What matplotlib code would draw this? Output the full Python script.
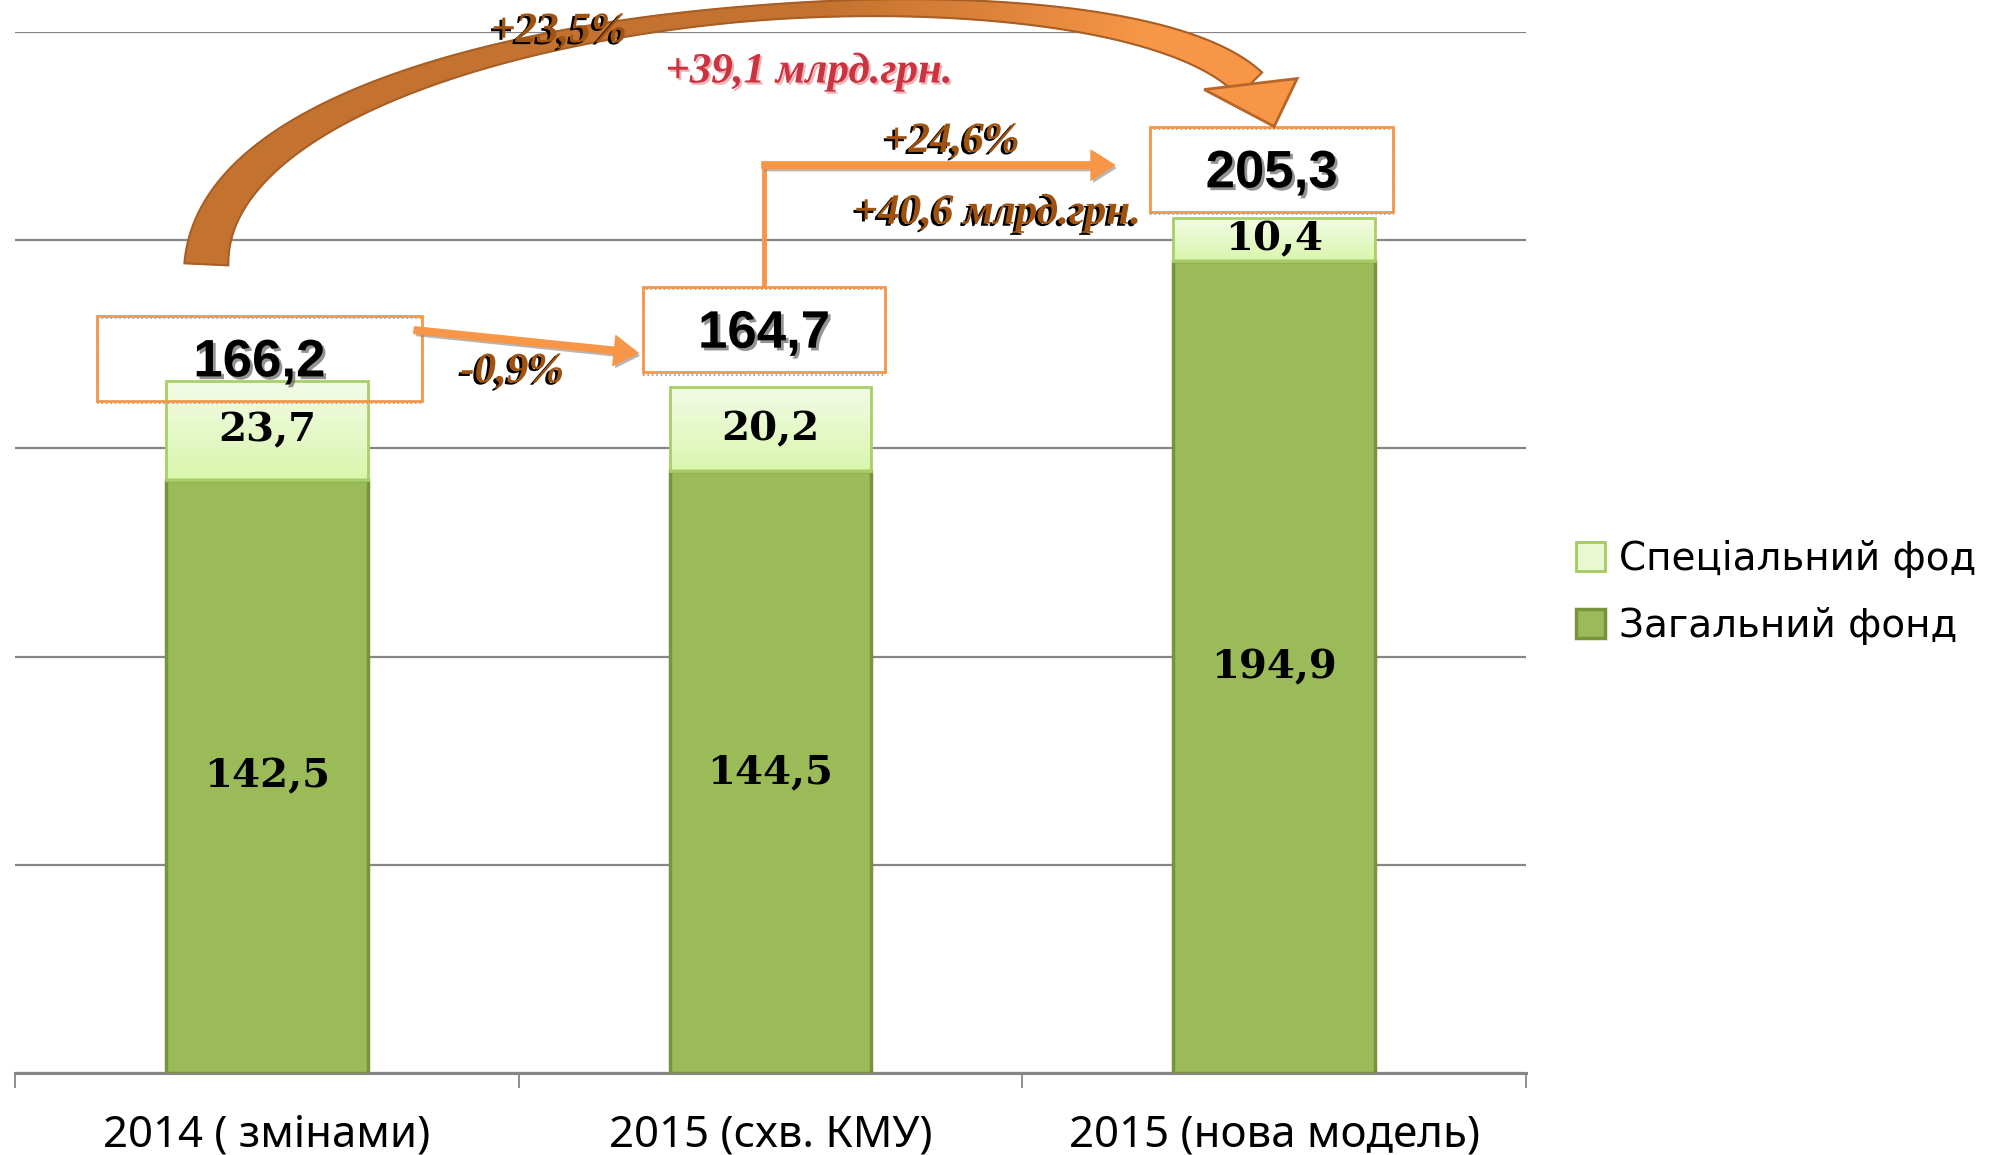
import numpy as np
import matplotlib
matplotlib.use('Agg')
import matplotlib.pyplot as plt
import matplotlib.patheffects as pe
from matplotlib.patches import Rectangle, Polygon, FancyArrowPatch, Patch
from matplotlib.collections import PolyCollection
from matplotlib.colors import LinearSegmentedColormap, to_rgb

# data
categories = ['2014 ( змінами)', '2015 (схв. КМУ)', '2015 (нова модель)']
general_fund = [142.5, 144.5, 194.9]
special_fund = [23.7, 20.2, 10.4]
series_names = ['Спеціальний фод', 'Загальний фонд']
step_pct = ['-0,9%', '+24,6%']
step_amount = '+40,6 млрд.грн.'
total_pct = '+23,5%'
total_amount = '+39,1 млрд.грн.'


def fmt(v):
    return f'{v:.1f}'.replace('.', ',')


x = np.arange(len(categories))
totals = np.array(general_fund) + np.array(special_fund)

fig = plt.figure(figsize=(19.91, 11.55), dpi=100)
ax = fig.add_axes([15 / 1991, 82 / 1155, 1511 / 1991, 1041 / 1155])

bw = 0.4
grid_col = '#868686'
orange = '#F79646'
brown = '#A0520F'

ax.bar(x, general_fund, bw, color='#9BBB59', edgecolor='#77933C', lw=2.5, zorder=3)

# special fund with light vertical gradient
sp_cmap = LinearSegmentedColormap.from_list('sp', ['#D9F6AC', '#F3FBE7'])
grad = np.linspace(0, 1, 100).reshape(-1, 1)
for xi, g, s in zip(x, general_fund, special_fund):
    ax.imshow(grad, extent=(xi - bw / 2, xi + bw / 2, g, g + s), origin='lower',
              cmap=sp_cmap, aspect='auto', zorder=2.8)
ax.bar(x, special_fund, bw, bottom=general_fund, facecolor='none',
       edgecolor='#A8CF66', lw=2, zorder=3)

ax.set_xlim(-0.5, 2.5)
ax.set_ylim(0, 250)
ax.set_aspect('auto')

# segment labels
for xi, g, s in zip(x, general_fund, special_fund):
    ax.text(xi, g / 2, fmt(g), ha='center', va='center', fontsize=29,
            family='DejaVu Serif', weight='bold', zorder=4)
    ax.text(xi, g + s / 2, fmt(s), ha='center', va='center', fontsize=29,
            family='DejaVu Serif', weight='bold', zorder=4)

# axes styling
ax.set_yticks(range(0, 251, 50))
ax.tick_params(axis='y', length=0, labelleft=False)
ax.yaxis.grid(True, color=grid_col, lw=1.6)
ax.set_axisbelow(True)
for side in ['left', 'right', 'top']:
    ax.spines[side].set_visible(False)
ax.spines['bottom'].set_color(grid_col)
ax.spines['bottom'].set_linewidth(2.2)
ax.set_xticks([-0.5, 0.5, 1.5, 2.5])
ax.set_xticklabels([])
ax.tick_params(axis='x', which='major', length=11, width=1.3, color=grid_col)
ax.set_xticks(x, minor=True)
ax.set_xticklabels(categories, minor=True, fontsize=31.5, family='Noto Sans')
ax.tick_params(axis='x', which='minor', length=0, pad=29)

# total boxes
box_dx = [-0.015, -0.013, -0.005]
box_w = [0.645, 0.48, 0.483]
box_off = [-4.8, 3.6, 1.5]
box_h = 20.5
box_top = []
for i, t in enumerate(totals):
    cx = x[i] + box_dx[i]
    y0 = t + box_off[i]
    ax.add_patch(Rectangle((cx - box_w[i] / 2, y0 - 0.6), box_w[i], box_h, facecolor='none',
                           edgecolor='#9A9A9A', lw=1.2, ls=':', zorder=4.4, clip_on=False))
    ax.add_patch(Rectangle((cx - box_w[i] / 2, y0), box_w[i], box_h, facecolor='none',
                           edgecolor=orange, lw=2, zorder=4.5, clip_on=False))
    ax.text(cx, y0 + box_h / 2 - 1, fmt(t), ha='center', va='center', fontsize=38,
            family='Liberation Sans', weight='bold', zorder=5, clip_on=False,
            path_effects=[pe.withSimplePatchShadow(offset=(2, -2), shadow_rgbFace='#666666', alpha=0.7)])
    box_top.append(y0 + box_h)

arrow_shadow = [pe.withSimplePatchShadow(offset=(1.5, -2), shadow_rgbFace='#888888', alpha=0.6)]
brown_fx = [pe.withSimplePatchShadow(offset=(-2, -1.5), shadow_rgbFace='black', alpha=1.0)]
arrow_style = 'simple,head_width=1.2,head_length=0.95,tail_width=0.27'

# arrow 2014 -> 2015 (КМУ)
b0_right = x[0] + box_dx[0] + box_w[0] / 2
b1_left = x[1] + box_dx[1] - box_w[1] / 2
ax.add_patch(FancyArrowPatch((b0_right - 0.015, totals[0] + 12.2), (b1_left - 0.01, totals[1] + 8.2),
                             arrowstyle=arrow_style, mutation_scale=18, color=orange,
                             shrinkA=0, shrinkB=0, zorder=5, clip_on=False,
                             path_effects=arrow_shadow))
ax.text((b0_right + b1_left) / 2 - 0.04, totals[1] + 3.6, step_pct[0], ha='center', va='center',
        fontsize=31, family='Liberation Serif', weight='bold', style='italic', color=brown,
        path_effects=brown_fx, zorder=5)

# elbow arrow 2015 (КМУ) -> 2015 (нова модель)
elbow_x = x[1] + box_dx[1]
elbow_y = 218
b2_left = x[2] + box_dx[2] - box_w[2] / 2
ax.plot([elbow_x, elbow_x], [box_top[1], elbow_y + 0.6], color=orange, lw=3.5,
        solid_capstyle='butt', zorder=5, clip_on=False, path_effects=arrow_shadow)
ax.add_patch(FancyArrowPatch((elbow_x - 0.004, elbow_y), (b2_left - 0.07, elbow_y),
                             arrowstyle=arrow_style, mutation_scale=18, color=orange,
                             shrinkA=0, shrinkB=0, zorder=5, clip_on=False,
                             path_effects=arrow_shadow))
ax.text(1.36, elbow_y + 5.6, step_pct[1], ha='center', va='center', fontsize=31,
        family='Liberation Serif', weight='bold', style='italic', color=brown,
        path_effects=brown_fx, zorder=5)
ax.text(1.45, elbow_y - 11.5, step_amount, ha='center', va='center', fontsize=31,
        family='Liberation Serif', weight='bold', style='italic', color=brown,
        path_effects=brown_fx, zorder=5)

# big curved arrow 2014 -> 2015 (нова модель), built in pixel space
tip = np.array([x[2], box_top[2]])
p0 = np.array([x[0] - 0.12, totals[0] + 28])
p1 = np.array([x[0] - 0.10, 258])
p2 = np.array([1.674, 272])
p3 = tip + np.array([-0.048, 10.1])
P = ax.transData.transform(np.array([p0, p1, p2, p3]))
tip_px = ax.transData.transform(tip)
t = np.linspace(0, 1, 400)[:, None]
shaft = ((1 - t) ** 3 * P[0] + 3 * (1 - t) ** 2 * t * P[1]
         + 3 * (1 - t) * t ** 2 * P[2] + t ** 3 * P[3])
s = t[:, 0]
w = (15 + 29 * np.clip((0.55 - s) / 0.55, 0, 1) ** 1.5
     + 19 * np.clip((s - 0.55) / 0.45, 0, 1) ** 1.5)
d = np.gradient(shaft, axis=0)
d /= np.hypot(d[:, 0], d[:, 1])[:, None]
nrm = np.column_stack([-d[:, 1], d[:, 0]])
left = shaft + nrm * w[:, None] / 2
right = shaft - nrm * w[:, None] / 2
inv = ax.transData.inverted()
c_a, c_b = np.array(to_rgb('#C4722F')), np.array(to_rgb(orange))
f = np.clip((s - 0.6) / 0.25, 0, 1)[:, None]
cols = c_a * (1 - f) + c_b * f
quads = [inv.transform(np.array([left[i], left[i + 1], right[i + 1], right[i]]))
         for i in range(len(shaft) - 1)]
pc = PolyCollection(quads, facecolors=cols[:-1], edgecolors=cols[:-1], linewidths=0.8, zorder=5)
pc.set_clip_on(False)
ax.add_collection(pc)
ax.add_patch(Polygon(inv.transform(np.vstack([left, right[::-1]])), closed=True, fill=False,
                     edgecolor='#A85F25', lw=1.5, zorder=5.1, clip_on=False))
# arrow head, pixel offsets from the tip (y up)
head = tip_px + np.array([[-70, 37], [0, 0], [23, 48]])
ax.add_patch(Polygon(inv.transform(head), closed=True, facecolor=orange, edgecolor='#B8652A',
                     lw=2, zorder=5.2, clip_on=False))
ax.text(0.58, 250, total_pct, ha='center', va='center', fontsize=31, family='Liberation Serif',
        weight='bold', style='italic', color=brown, path_effects=brown_fx, zorder=6, clip_on=False)
ax.text(1.076, 240.4, total_amount, ha='center', va='center', fontsize=31,
        family='Liberation Serif', weight='bold', style='italic', color='#CC3340',
        path_effects=[pe.withSimplePatchShadow(offset=(1.5, -1.5), shadow_rgbFace='#E8A0A4', alpha=0.8)],
        zorder=6, clip_on=False)

# legend
handles = [Patch(facecolor='#EAF8D2', edgecolor='#A3CC5F', lw=2, label=series_names[0]),
           Patch(facecolor='#9BBB59', edgecolor='#77933C', lw=2.5, label=series_names[1])]
fig.legend(handles=handles, loc='center left', bbox_to_anchor=(1576 / 1991, 0.487),
           frameon=False, prop={'family': 'DejaVu Sans', 'size': 28}, handlelength=0.75,
           handleheight=0.75, handletextpad=0.35, labelspacing=0.75, borderpad=0, borderaxespad=0)

fig.savefig('out.png', dpi=100)
